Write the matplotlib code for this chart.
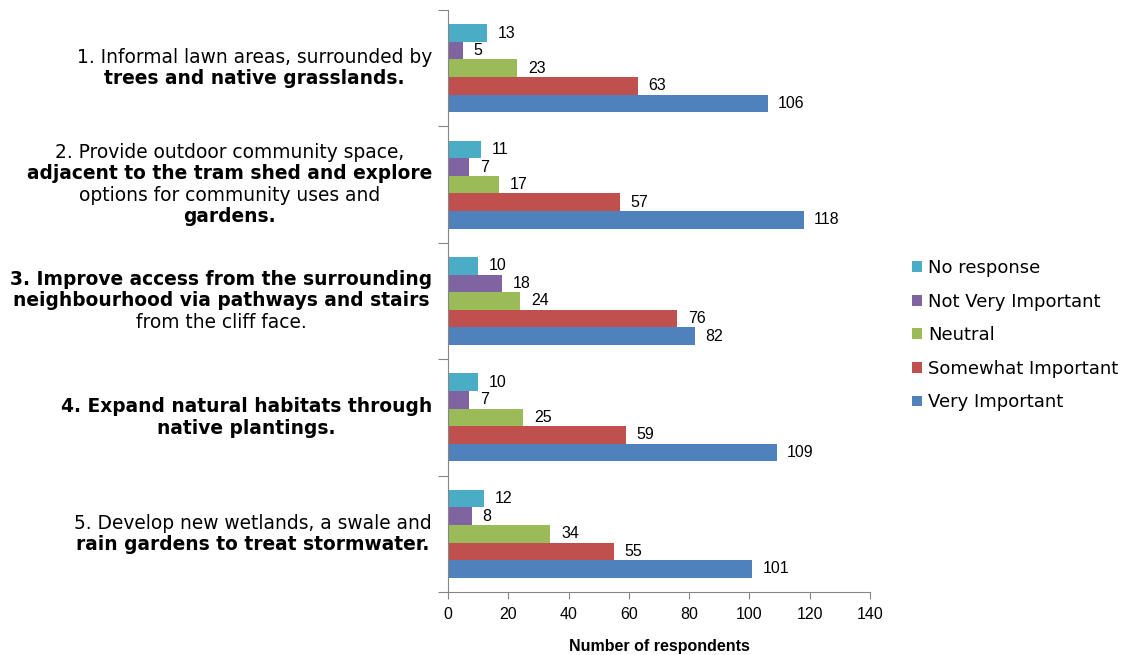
import matplotlib
matplotlib.use("Agg")
import matplotlib.pyplot as plt
import numpy as np

# categories, top to bottom
question_lines = [
    [("1. Informal lawn areas, surrounded by", "normal"),
     ("trees and native grasslands.", "bold")],
    [("2. Provide outdoor community space,", "normal"),
     ("adjacent to the tram shed and explore", "bold"),
     ("options for community uses and", "normal"),
     ("gardens.", "bold")],
    [("3. Improve access from the surrounding", "bold"),
     ("neighbourhood via pathways and stairs", "bold"),
     ("from the cliff face.", "normal")],
    [("4. Expand natural habitats through", "bold"),
     ("native plantings.", "bold")],
    [("5. Develop new wetlands, a swale and", "normal"),
     ("rain gardens to treat stormwater.", "bold")],
]

series_names = ["No response", "Not Very Important", "Neutral",
                "Somewhat Important", "Very Important"]
no_response = [13, 11, 10, 10, 12]
not_very = [5, 7, 18, 7, 8]
neutral = [23, 17, 24, 25, 34]
somewhat = [63, 57, 76, 59, 55]
very = [106, 118, 82, 109, 101]
series_values = [no_response, not_very, neutral, somewhat, very]
colors = ["#4BACC6", "#8064A2", "#9BBB59", "#C0504D", "#4F81BD"]

W, H = 1128, 655
fig = plt.figure(figsize=(W / 100, H / 100), dpi=100)
ax = fig.add_axes([448 / W, 1 - 592 / H, (870 - 448) / W, (592 - 10) / H])

n = len(question_lines)
h = 0.151
y = np.arange(n)
for j, (name, vals, c) in enumerate(zip(series_names, series_values, colors)):
    ypos = y + (j - 2) * h
    ax.barh(ypos, vals, height=h, color=c, label=name)
    for yy, v in zip(ypos, vals):
        ax.text(v + 3.5, yy, str(v), va="center", ha="left",
                fontsize=11.5, family="Liberation Sans")

ax.set_ylim(n - 0.5, -0.5)
ax.set_xlim(0, 140)
ax.set_xticks(np.arange(0, 141, 20))
ax.set_yticks(np.arange(-0.5, n, 1.0))
ax.set_yticklabels([])
for lbl in ax.get_xticklabels():
    lbl.set_family("Liberation Sans")
    lbl.set_fontsize(11.5)
ax.tick_params(axis="y", length=7, color="#868686", direction="out")
ax.tick_params(axis="x", length=5, color="#868686", direction="out", pad=6)
for s in ["top", "right"]:
    ax.spines[s].set_visible(False)
for s in ["left", "bottom"]:
    ax.spines[s].set_color("#868686")
ax.set_xlabel("Number of respondents", fontsize=11.5, fontweight="bold",
              family="Liberation Sans", labelpad=12)

# category labels, lines centred within a block right-aligned at x=432 px
renderer = fig.canvas.get_renderer()
right_px = 432
line_gap = 21.5
for i, lines in enumerate(question_lines):
    texts = []
    for txt, wt in lines:
        t = fig.text(0, 0, txt, fontsize=13.4, fontweight=wt,
                     family="DejaVu Sans", ha="center", va="center")
        texts.append(t)
    widths = [t.get_window_extent(renderer).width for t in texts]
    cx = right_px - max(widths) / 2
    cy_data = ax.transData.transform((0, i))[1]
    k = len(lines)
    for m, t in enumerate(texts):
        py = cy_data + ((k - 1) / 2 - m) * line_gap
        t.set_position((cx / W, py / H))

fig.legend(loc="upper left", bbox_to_anchor=(896 / W, 1 - 243 / H),
           frameon=False, fontsize=13, handlelength=0.55, handleheight=0.55,
           handletextpad=0.35, labelspacing=0.86)

fig.savefig("out.png", dpi=100)
